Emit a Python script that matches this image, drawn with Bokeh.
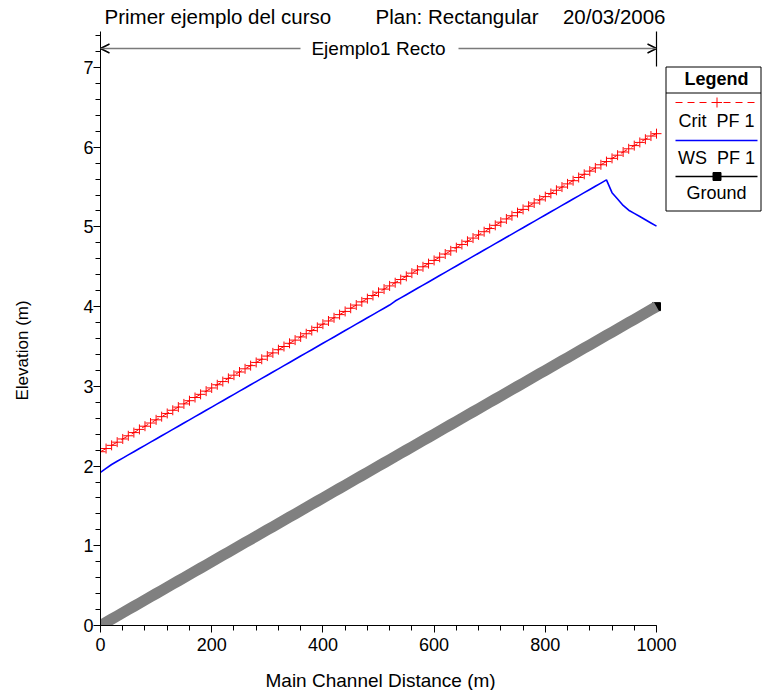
from bokeh.plotting import figure
from bokeh.models import Range1d, SingleIntervalTicker, Label, Arrow, OpenHead, Title
from bokeh.embed import file_html
from bokeh.resources import INLINE

# ---------------- data ----------------
stations = [0, 10, 20, 30, 40, 50, 60, 70, 80, 90,
            100, 110, 120, 130, 140, 150, 160, 170, 180, 190,
            200, 210, 220, 230, 240, 250, 260, 270, 280, 290,
            300, 310, 320, 330, 340, 350, 360, 370, 380, 390,
            400, 410, 420, 430, 440, 450, 460, 470, 480, 490,
            500, 510, 520, 530, 540, 550, 560, 570, 580, 590,
            600, 610, 620, 630, 640, 650, 660, 670, 680, 690,
            700, 710, 720, 730, 740, 750, 760, 770, 780, 790,
            800, 810, 820, 830, 840, 850, 860, 870, 880, 890,
            900, 910, 920, 930, 940, 950, 960, 970, 980, 990,
            1000]

ground = [0.00, 0.04, 0.08, 0.12, 0.16, 0.20, 0.24, 0.28, 0.32, 0.36,
          0.40, 0.44, 0.48, 0.52, 0.56, 0.60, 0.64, 0.68, 0.72, 0.76,
          0.80, 0.84, 0.88, 0.92, 0.96, 1.00, 1.04, 1.08, 1.12, 1.16,
          1.20, 1.24, 1.28, 1.32, 1.36, 1.40, 1.44, 1.48, 1.52, 1.56,
          1.60, 1.64, 1.68, 1.72, 1.76, 1.80, 1.84, 1.88, 1.92, 1.96,
          2.00, 2.04, 2.08, 2.12, 2.16, 2.20, 2.24, 2.28, 2.32, 2.36,
          2.40, 2.44, 2.48, 2.52, 2.56, 2.60, 2.64, 2.68, 2.72, 2.76,
          2.80, 2.84, 2.88, 2.92, 2.96, 3.00, 3.04, 3.08, 3.12, 3.16,
          3.20, 3.24, 3.28, 3.32, 3.36, 3.40, 3.44, 3.48, 3.52, 3.56,
          3.60, 3.64, 3.68, 3.72, 3.76, 3.80, 3.84, 3.88, 3.92, 3.96,
          4.00]

crit_pf1 = [2.18, 2.22, 2.26, 2.30, 2.34, 2.38, 2.42, 2.46, 2.50, 2.54,
            2.58, 2.62, 2.66, 2.70, 2.74, 2.78, 2.82, 2.86, 2.90, 2.94,
            2.98, 3.02, 3.06, 3.10, 3.14, 3.18, 3.22, 3.26, 3.30, 3.34,
            3.38, 3.42, 3.46, 3.50, 3.54, 3.58, 3.62, 3.66, 3.70, 3.74,
            3.78, 3.82, 3.86, 3.90, 3.94, 3.98, 4.02, 4.06, 4.10, 4.14,
            4.18, 4.22, 4.26, 4.30, 4.34, 4.38, 4.42, 4.46, 4.50, 4.54,
            4.58, 4.62, 4.66, 4.70, 4.74, 4.78, 4.82, 4.86, 4.90, 4.94,
            4.98, 5.02, 5.06, 5.10, 5.14, 5.18, 5.22, 5.26, 5.30, 5.34,
            5.38, 5.42, 5.46, 5.50, 5.54, 5.58, 5.62, 5.66, 5.70, 5.74,
            5.78, 5.82, 5.86, 5.90, 5.94, 5.98, 6.02, 6.06, 6.10, 6.14,
            6.17]

ws_pf1 = [1.92, 1.97, 2.02, 2.06, 2.10, 2.14, 2.18, 2.22, 2.26, 2.30,
          2.34, 2.38, 2.42, 2.46, 2.50, 2.54, 2.58, 2.62, 2.66, 2.70,
          2.74, 2.78, 2.82, 2.86, 2.90, 2.94, 2.98, 3.02, 3.06, 3.10,
          3.14, 3.18, 3.22, 3.26, 3.30, 3.34, 3.38, 3.42, 3.46, 3.50,
          3.54, 3.58, 3.62, 3.66, 3.70, 3.74, 3.78, 3.82, 3.86, 3.90,
          3.94, 3.98, 4.02, 4.07, 4.11, 4.15, 4.19, 4.23, 4.27, 4.31,
          4.35, 4.39, 4.43, 4.47, 4.51, 4.55, 4.59, 4.63, 4.67, 4.71,
          4.75, 4.79, 4.83, 4.87, 4.91, 4.95, 4.99, 5.03, 5.07, 5.11,
          5.15, 5.19, 5.23, 5.27, 5.31, 5.35, 5.39, 5.43, 5.47, 5.51,
          5.55, 5.59, 5.43, 5.35, 5.27, 5.21, 5.17, 5.13, 5.09, 5.05,
          5.01]

title_left = "Primer ejemplo del curso"
title_mid = "Plan: Rectangular"
title_right = "20/03/2006"
reach_name = "Ejemplo1 Recto"
legend_title = "Legend"
legend_items = ["Crit \u00a0PF 1", "WS \u00a0PF 1", "Ground"]
x_label = "Main Channel Distance (m)"
y_label = "Elevation (m)"

# ---------------- layout ----------------
FONT = "Liberation Sans"
W, H = 762, 690
ML, MR, MT, MB = 100, 0, 0, 65
FW, FH = W - ML - MR, H - MT - MB            # frame size in px (frame bottom at y=625)
X_END = 1000 * FW / 556.0                    # 1000 m -> 556 px
Y_END = 7 * FH / 558.0                       # 7 m -> 558 px
Y_AXIS_TOP = 7 * 594 / 558.0                 # y axis line reaches page y = 31


def dx(px):   # page pixel x -> data x
    return (px - ML) * X_END / FW


def dy(py):   # page pixel y -> data y
    return (MT + FH - py) * Y_END / FH


p = figure(width=W, height=H, output_backend="svg", toolbar_location=None,
           x_range=Range1d(0, X_END), y_range=Range1d(0, Y_END),
           min_border_left=ML, min_border_right=MR,
           min_border_top=MT, min_border_bottom=MB)
p.outline_line_color = None
p.grid.visible = False
p.background_fill_color = "white"
p.border_fill_color = "white"

# axes
p.xaxis.ticker = SingleIntervalTicker(interval=200, num_minor_ticks=5)
p.yaxis.ticker = SingleIntervalTicker(interval=1, num_minor_ticks=5)
p.xaxis.bounds = (0, 1000)
p.yaxis.bounds = (0, Y_AXIS_TOP)
for ax in (p.xaxis, p.yaxis):
    ax.axis_line_color = "black"
    ax.major_tick_line_color = "black"
    ax.minor_tick_line_color = "black"
    ax.major_tick_in = 0
    ax.major_tick_out = 7
    ax.minor_tick_in = 0
    ax.minor_tick_out = 5
    ax.major_label_text_font = FONT
    ax.major_label_text_font_size = "18px"
    ax.major_label_text_color = "black"
p.xaxis.major_label_standoff = 5
p.yaxis.major_label_standoff = 0

# axis titles, placed like the reference (spacer titles push them outward)
p.add_layout(Title(text="\u00a0", text_font_size="1px", standoff=10.5), "below")
p.add_layout(Title(text=x_label, align="left", offset=165, standoff=0,
                   text_font=FONT, text_font_size="19px",
                   text_font_style="normal", text_color="black"), "below")
p.add_layout(Title(text="\u00a0", text_font_size="1px", standoff=46), "left")
p.add_layout(Title(text=y_label, align="left", offset=225, standoff=0,
                   text_font=FONT, text_font_size="17px",
                   text_font_style="normal", text_color="black"), "left")

# ---------------- series ----------------
# Ground: black end markers under a thick grey band
p.scatter([stations[0], stations[-1]], [ground[0], ground[-1]], marker="square",
          size=8, color="black")
p.line(stations, ground, line_color="#808080", line_width=11, line_cap="butt")

# WS PF 1
p.line(stations, ws_pf1, line_color="#0000FF", line_width=1.6)

# Crit PF 1
p.line(stations, crit_pf1, line_color="#FF0000", line_width=1, line_dash="7 5")
p.scatter(stations, crit_pf1, marker="cross", size=10, line_color="#FF0000",
          line_width=1)

# ---------------- reach bracket ----------------
yb = dy(48)
p.segment(x0=[stations[-1]], y0=[dy(66)], x1=[stations[-1]], y1=[dy(31)],
          line_color="black", line_width=1.2)
p.add_layout(Arrow(end=OpenHead(size=9, line_color="black", line_width=1.5),
                   x_start=dx(300), y_start=yb, x_end=stations[0], y_end=yb,
                   line_color="#7a7a7a", line_width=1.5))
p.add_layout(Arrow(end=OpenHead(size=9, line_color="black", line_width=1.5),
                   x_start=dx(458), y_start=yb, x_end=stations[-1], y_end=yb,
                   line_color="#7a7a7a", line_width=1.5))
p.add_layout(Label(x=500, y=yb, text=reach_name, text_align="center",
                   text_baseline="middle", text_font=FONT,
                   text_font_size="19px", text_color="black"))

# ---------------- header texts ----------------
for t, px, al in ((title_left, 104, "left"), (title_mid, 375, "left"),
                  (title_right, 665, "right")):
    p.add_layout(Label(x=dx(px), y=dy(16), text=t, text_align=al,
                       text_baseline="middle", text_font=FONT,
                       text_font_size="20.5px", text_color="black"))

# ---------------- legend box ----------------
L, R, T, B = 665.5, 760.5, 66.5, 210.5
p.line([dx(L), dx(R), dx(R), dx(L), dx(L)], [dy(T), dy(T), dy(B), dy(B), dy(T)],
       line_color="black", line_width=1)
p.line([dx(L), dx(R)], [dy(92.5), dy(92.5)], line_color="black", line_width=1)
p.add_layout(Label(x=dx(716), y=dy(78), text=legend_title, text_align="center",
                   text_baseline="middle", text_font=FONT, text_font_style="bold",
                   text_font_size="18px", text_color="black"))
# sample glyphs
p.line([dx(675), dx(757)], [dy(102), dy(102)], line_color="#FF0000",
       line_width=1, line_dash="7 5")
p.scatter([dx(716.5)], [dy(102)], marker="cross", size=10, line_color="#FF0000",
          line_width=1)
p.line([dx(675), dx(757)], [dy(140), dy(140)], line_color="#0000FF", line_width=1.6)
p.line([dx(675), dx(757)], [dy(176), dy(176)], line_color="black", line_width=1.4)
p.scatter([dx(716.5)], [dy(176)], marker="square", size=8, color="black")
for t, py in zip(legend_items, (120, 157, 192)):
    p.add_layout(Label(x=dx(716), y=dy(py), text=t, text_align="center",
                       text_baseline="middle", text_font=FONT,
                       text_font_size="18px", text_color="black"))

open("out.html", "w").write(file_html(p, INLINE))
